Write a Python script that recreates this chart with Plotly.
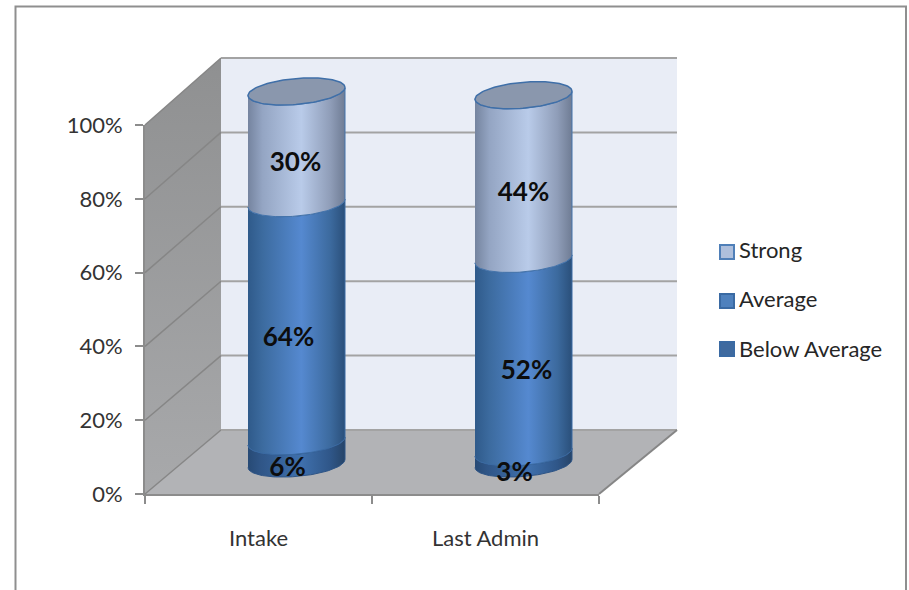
import numpy as np
import plotly.graph_objects as go

categories = ["Intake", "Last Admin"]
series_names = ["Below Average", "Average", "Strong"]
below_average = [0.06, 0.03]
average = [0.64, 0.52]
strong = [0.30, 0.44]
y_ticks = [0, 0.2, 0.4, 0.6, 0.8, 1.0]

W, H = 909, 590
L, R, T, B = 145, 310, 125, 96
PW, PH = W - L - R, H - T - B
UX = PW / 2.0     # px per category unit
UY = PH / 1.0     # px per 100 %
FONT = "Lato"
GRID = "#a3a3a3"
SIDE_GRID = "#868686"
AXIS = "#8c8c8c"

# 3-D depth of the box, in axis units
DX = 76 / UX
DX_R = 78 / UX
BACK_BASE = 64 / UY
BACK_SCALE = 372 / 369
MID = 0.5
CYL_A = 48.5 / UX
CYL_B = 13 / UY
CYL_TILT = 4 / UY
CYL_BASE = 30.5 / UY
LABEL_DROP = 17 / UY


def fy(v):
    return v


def by(v):
    return BACK_BASE + BACK_SCALE * v


def cy(v):
    return CYL_BASE + BACK_SCALE * v


x0, x1 = -0.5, 1.5
fig = go.Figure()


def poly(xs, ys, color=None, grad=None, line=None, lw=0):
    kw = dict(x=list(xs), y=list(ys), mode="lines", fill="toself", showlegend=False,
              hoverinfo="skip", xaxis="x2", yaxis="y2",
              line=dict(width=lw, color=line or "rgba(0,0,0,0)"))
    if grad:
        kw["fillgradient"] = grad
    else:
        kw["fillcolor"] = color
    fig.add_trace(go.Scatter(**kw))


def seg(xs, ys, color=GRID, w=2):
    fig.add_trace(go.Scatter(x=list(xs), y=list(ys), mode="lines", showlegend=False,
                             hoverinfo="skip", xaxis="x2", yaxis="y2",
                             line=dict(color=color, width=w)))


# back wall
poly([x0 + DX, x1 + DX_R, x1 + DX_R, x0 + DX], [by(0), by(0), by(1), by(1)], color="#e9edf6")
# side wall
poly([x0, x0 + DX, x0 + DX, x0], [fy(0), by(0), by(1), fy(1)],
     grad=dict(type="vertical",
               colorscale=[[0, "#a8a9ab"], [1, "#8f9091"]]))
# floor
poly([x0, x1, x1 + DX_R, x0 + DX], [fy(0), fy(0), by(0), by(0)], color="#b2b3b6")

# grid lines on the walls
for v in y_ticks:
    seg([x0, x0 + DX], [fy(v), by(v)], color=SIDE_GRID, w=1.5)
    seg([x0 + DX, x1 + DX_R], [by(v), by(v)], color=GRID, w=2)
seg([x1, x1 + DX_R], [fy(0), by(0)], color=SIDE_GRID, w=2)

# cylinders
t_front = np.linspace(np.pi, 2 * np.pi, 60)
t_full = np.linspace(0, 2 * np.pi, 120)


def ring(cx, level, t):
    return cx + CYL_A * np.cos(t), cy(level) + CYL_B * np.sin(t) + CYL_TILT * np.cos(t)


scales = {
    "Below Average": [[0, "#274a75"], [0.12, "#2f5586"], [0.55, "#3f70ad"], [0.85, "#2f5688"], [1, "#264468"]],
    "Average": [[0, "#2f5a8a"], [0.15, "#3c6b9f"], [0.55, "#5589d0"], [0.85, "#3c6a9e"], [1, "#2a4f7a"]],
    "Strong": [[0, "#75849f"], [0.15, "#94a5c3"], [0.55, "#b9cbe9"], [0.85, "#8f9db8"], [1, "#6f7c94"]],
}
edges = {"Below Average": "#2d5486", "Average": "#3a6aa3", "Strong": "#4574ab"}

for i, cat in enumerate(categories):
    cx = i + DX * MID
    level = 0.0
    for name, vals in zip(series_names, [below_average, average, strong]):
        lo, hi = level, level + vals[i]
        xa, ya = ring(cx, lo, t_front)
        xb, yb = ring(cx, hi, t_front[::-1])
        poly(np.r_[xa, xb], np.r_[ya, yb],
             grad=dict(type="horizontal", colorscale=scales[name]),
             line=edges[name], lw=1)
        level = hi
    xe, ye = ring(cx, level, t_full)
    poly(xe, ye, color="#8a97ad", line="#3f6fa8", lw=1.5)

# data labels, on the front surface of each cylinder
label_dx = [[-9 / UX, -8 / UX, -1 / UX], [-9 / UX, 3 / UX, 0]]
lx, ly, lt = [], [], []
for i in range(len(categories)):
    level = 0.0
    for j, vals in enumerate([below_average, average, strong]):
        lx.append(i + DX * MID + label_dx[i][j])
        ly.append(cy(level + vals[i] / 2) - LABEL_DROP)
        lt.append(f"{vals[i] * 100:.0f}%")
        level += vals[i]
fig.add_trace(go.Scatter(x=lx, y=ly, text=lt, mode="text", textposition="middle center",
                         xaxis="x2", yaxis="y2", showlegend=False, hoverinfo="skip",
                         textfont=dict(family=FONT, size=26, color="#0d0d0d", weight="bold")))

# legend entries: native text, swatches placed next to the text
legend_names = ["Strong", "Average", "Below Average"]
legend_fill = ["#aebfdc", "#4f81bd", "#3f6a9f"]
legend_edge = ["#4f7fb8", "#3a6aa3", "#3a6aa3"]
for name in legend_names:
    fig.add_trace(go.Scatter(x=[None], y=[None], mode="markers", name=name, legendgroup=name,
                             marker=dict(symbol="square", size=14, color="rgba(0,0,0,0)")))
swatch_px_x = 727
swatch_px_y = [252, 301, 349]
fig.add_trace(go.Scatter(x=[x0 + (swatch_px_x - L) / UX] * 3,
                         y=[(H - B - p) / UY for p in swatch_px_y],
                         mode="markers", xaxis="x2", yaxis="y2", showlegend=False, hoverinfo="skip",
                         marker=dict(symbol="square", size=14, color=legend_fill,
                                     line=dict(color=legend_edge, width=2))))


def px(p):
    return p / W


def py(p):
    return 1 - p / H


border = f"M {px(15.5)},{py(590)} L {px(15.5)},{py(6.5)} L {px(906)},{py(6.5)} L {px(906)},{py(590)}"

fig.update_layout(
    width=W, height=H, autosize=False,
    margin=dict(l=0, r=0, t=0, b=0, pad=0, autoexpand=False),
    paper_bgcolor="white", plot_bgcolor="rgba(0,0,0,0)",
    font=dict(family=FONT, size=22, color="#404040"),
    shapes=[dict(type="path", path=border, xref="paper", yref="paper",
                 line=dict(color="#8f8f8f", width=2), layer="below")],
    xaxis=dict(domain=[L / W, (W - R) / W], range=[x0, x1], tickvals=[0, 1], ticktext=categories,
               showgrid=False, zeroline=False,
               showline=True, linecolor=AXIS, linewidth=2, ticks="", ticklabelstandoff=24,
               tickfont=dict(family=FONT, size=22, color="#333333"),
               minor=dict(tickvals=[-0.5, 0.5, 1.5], ticks="outside", ticklen=8, tickcolor=AXIS,
                          tickwidth=2, showgrid=False)),
    yaxis=dict(domain=[B / H, (H - T) / H], range=[0, 1], tickvals=y_ticks, tickformat=".0%",
               showgrid=False, zeroline=False,
               showline=True, linecolor=AXIS, linewidth=2, ticks="outside", ticklen=8,
               tickcolor=AXIS, tickwidth=2, ticklabelstandoff=8,
               tickfont=dict(family=FONT, size=22, color="#333333")),
    xaxis2=dict(domain=[0, 1], range=[x0 - L / UX, x0 + (W - L) / UX], visible=False, anchor="y2"),
    yaxis2=dict(domain=[0, 1], range=[-B / UY, (H - B) / UY], visible=False, anchor="x2"),
    legend=dict(x=px(699), y=py(229), xanchor="left", yanchor="top", bgcolor="rgba(0,0,0,0)",
                traceorder="grouped", tracegroupgap=17.5, itemwidth=30,
                font=dict(family=FONT, size=22, color="#262626")),
)

fig.write_html("out.html", config={"displayModeBar": False},
               post_script="document.body.style.margin='0';document.body.style.overflow='hidden';")
